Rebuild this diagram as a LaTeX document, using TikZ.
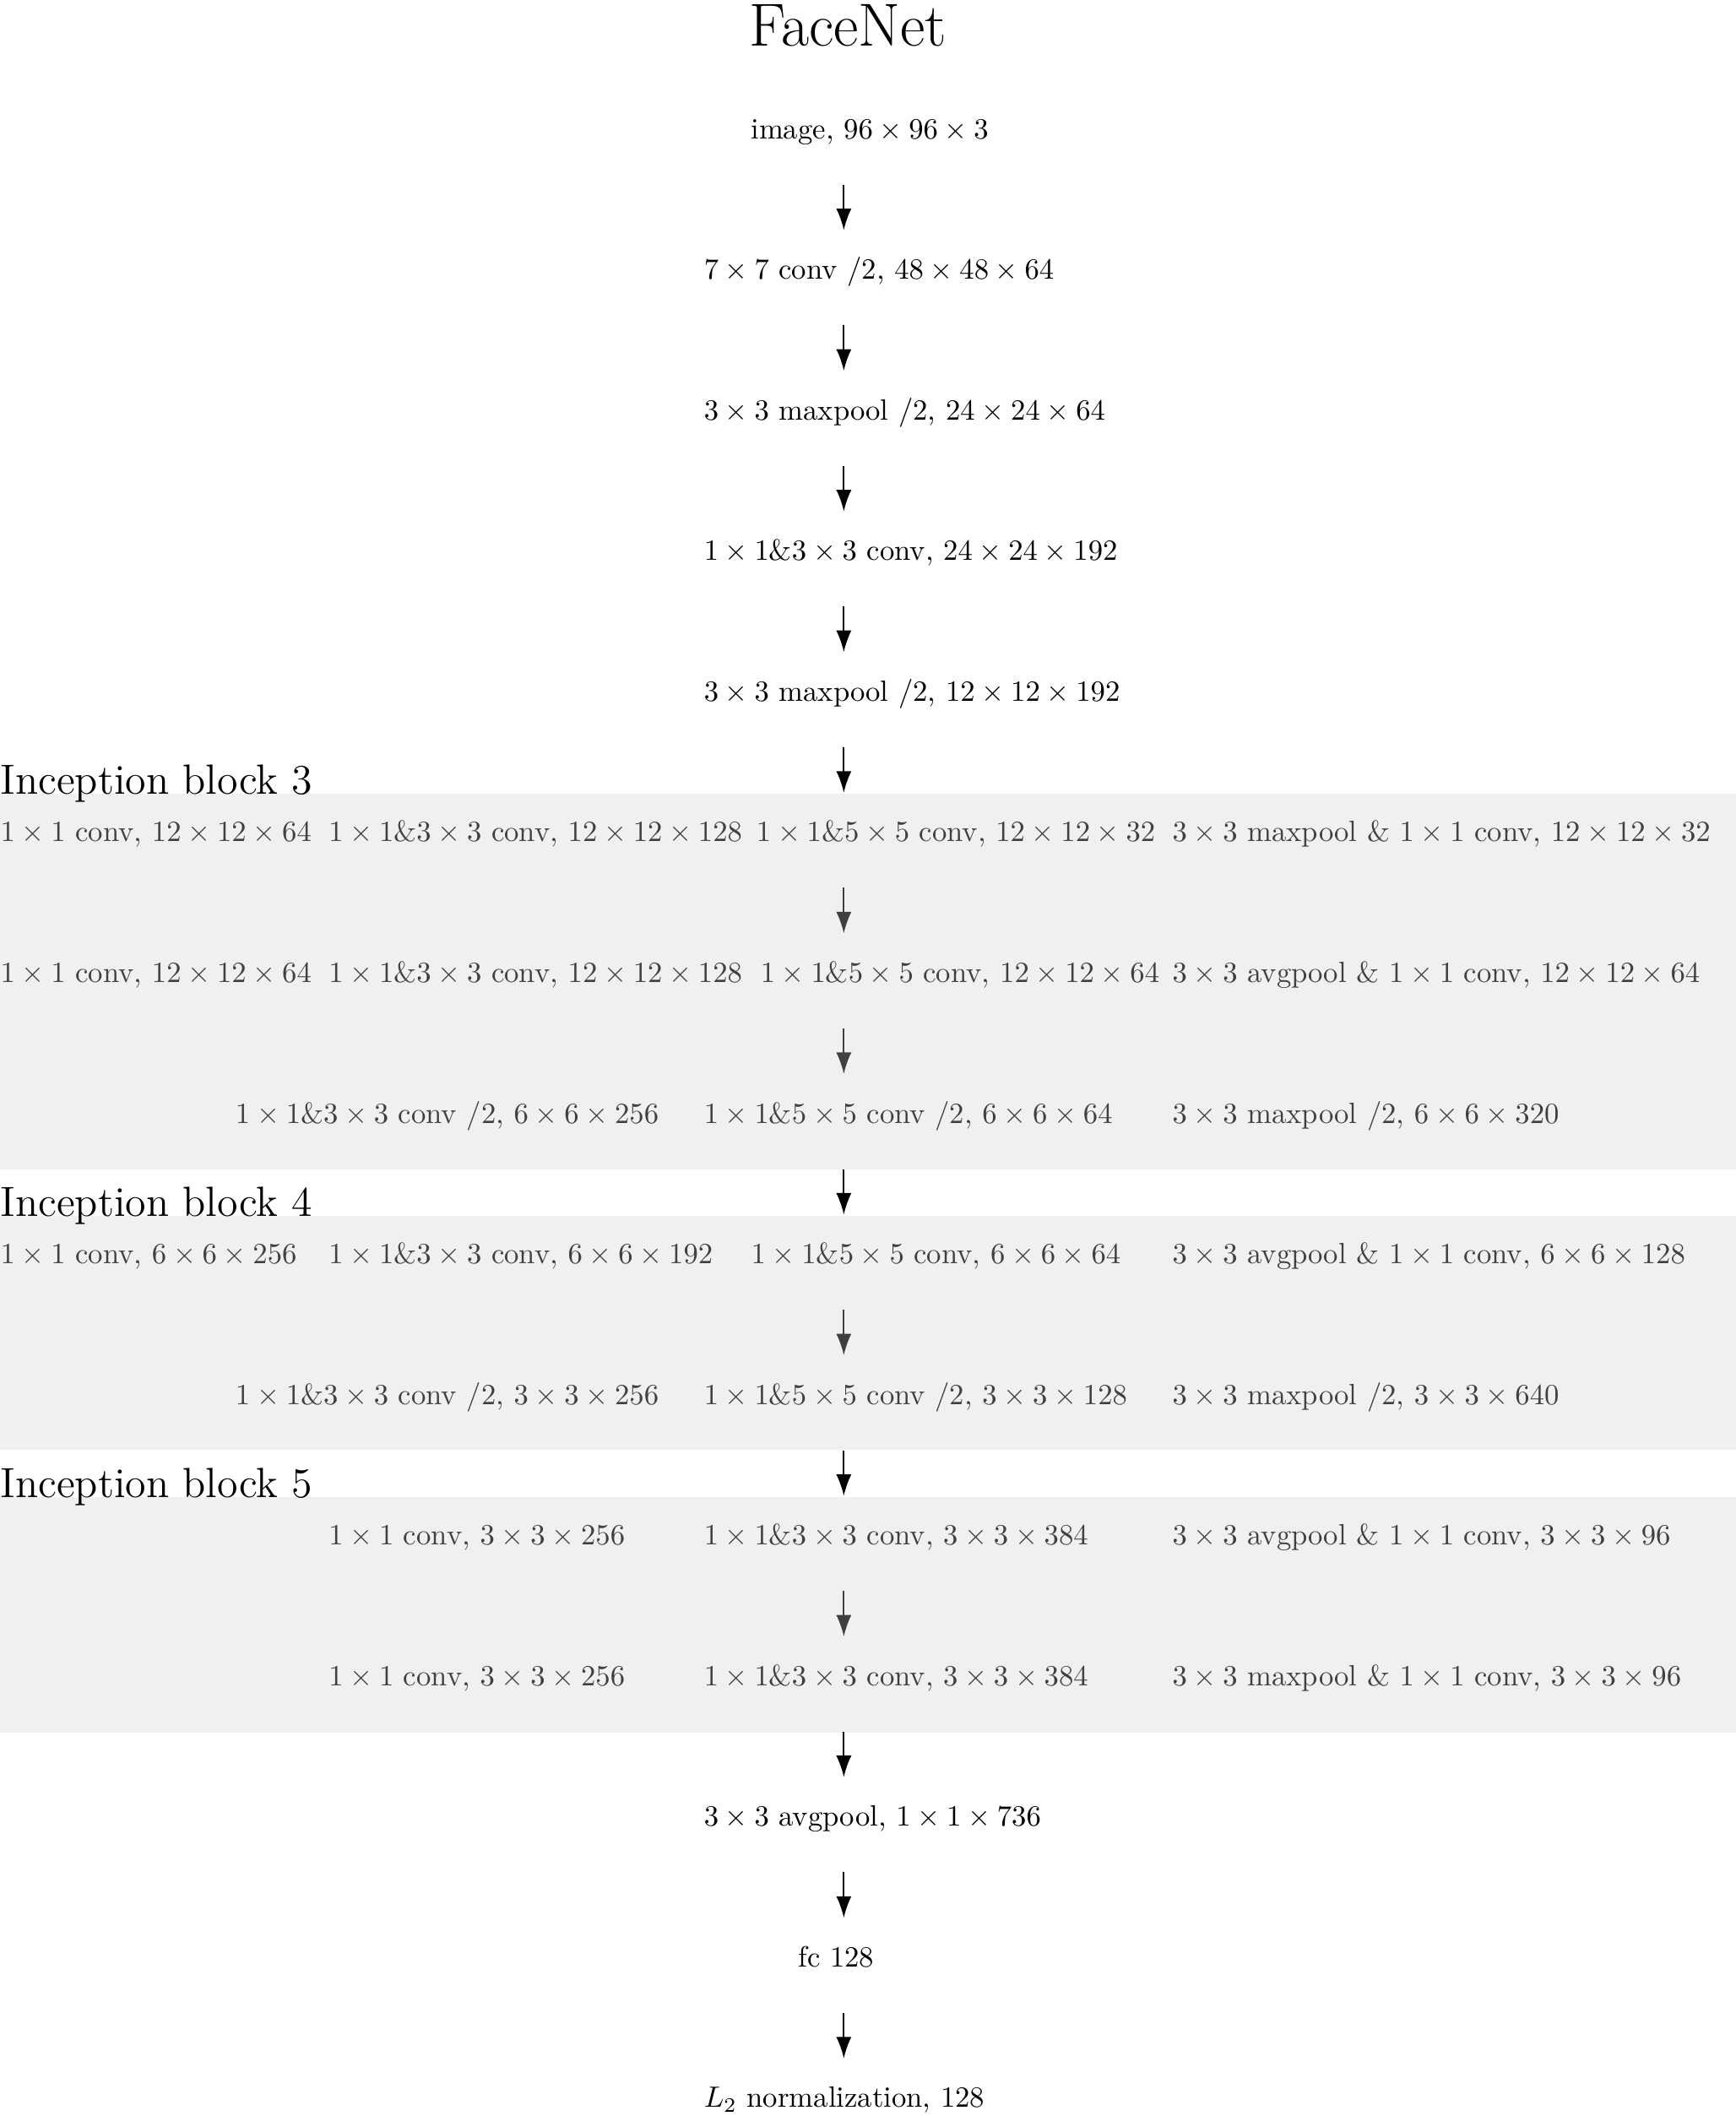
\documentclass[tikz,border=0pt]{standalone}
\usetikzlibrary{arrows.meta}

\definecolor{fondo}{HTML}{F0F0F0}
\definecolor{gris}{HTML}{404040}

\begin{document}
\begin{tikzpicture}
[x=1pt,y=1pt,
 capa/.style={anchor=base west,inner sep=0pt,text height=7pt,text depth=2pt},
 capagris/.style={capa,text=gris},
 titulo/.style={anchor=base west,inner sep=0pt,font=\Large},
 flecha/.style={-{Latex[length=7.3pt,width=5.2pt]},line width=0.5pt,shorten <=13.5pt,shorten >=9.6pt},
 flechagris/.style={flecha,color=gris}]
\useasboundingbox (0,0) rectangle (592.5,-722.2);
% fondos de los bloques
\fill[fondo] (0,-270.9) rectangle (592.5,-399.1);
\fill[fondo] (0,-415.0) rectangle (592.5,-494.8);
\fill[fondo] (0,-511.0) rectangle (592.5,-591.4);
\coordinate (eje) at (288,0);

\node (red) [font=\huge,anchor=base,inner sep=0pt] at (289.4,-15.6) {FaceNet};
\node (capa1) [capa] at (256.1,-47.3) {image, $96\times96\times3$};
\node (capa2) [capa] at (240.1,-95.3) {$7\times7$ conv /2, $48\times48\times64$};
\node (capa3) [capa] at (240.1,-143.3) {$3\times3$ maxpool /2, $24\times24\times64$};
\node (capa4) [capa] at (240.1,-191.3) {$1\times1$\&$3\times3$ conv, $24\times24\times192$};
\node (capa5) [capa] at (240.1,-239.3) {$3\times3$ maxpool /2, $12\times12\times192$};

\node (bloque3) [titulo] at (0,-270.9) {Inception block 3};
\node (b3a1) [capagris] at (0,-287.3) {$1\times1$ conv, $12\times12\times64$};
\node (b3a2) [capagris] at (112.0,-287.3) {$1\times1$\&$3\times3$ conv, $12\times12\times128$};
\node (b3a3) [capagris] at (258.0,-287.3) {$1\times1$\&$5\times5$ conv, $12\times12\times32$};
\node (b3a4) [capagris] at (400.0,-287.3) {$3\times3$ maxpool \& $1\times1$ conv, $12\times12\times32$};
\node (b3b1) [capagris] at (0,-335.3) {$1\times1$ conv, $12\times12\times64$};
\node (b3b2) [capagris] at (112.0,-335.3) {$1\times1$\&$3\times3$ conv, $12\times12\times128$};
\node (b3b3) [capagris] at (259.4,-335.3) {$1\times1$\&$5\times5$ conv, $12\times12\times64$};
\node (b3b4) [capagris] at (400.0,-335.3) {$3\times3$ avgpool \& $1\times1$ conv, $12\times12\times64$};
\node (b3c1) [capagris] at (80.2,-383.3) {$1\times1$\&$3\times3$ conv /2, $6\times6\times256$};
\node (b3c2) [capagris] at (240.1,-383.3) {$1\times1$\&$5\times5$ conv /2, $6\times6\times64$};
\node (b3c3) [capagris] at (400.0,-383.3) {$3\times3$ maxpool /2, $6\times6\times320$};

\node (bloque4) [titulo] at (0,-415.0) {Inception block 4};
\node (b4a1) [capagris] at (0,-431.3) {$1\times1$ conv, $6\times6\times256$};
\node (b4a2) [capagris] at (112.0,-431.3) {$1\times1$\&$3\times3$ conv, $6\times6\times192$};
\node (b4a3) [capagris] at (256.2,-431.3) {$1\times1$\&$5\times5$ conv, $6\times6\times64$};
\node (b4a4) [capagris] at (400.0,-431.3) {$3\times3$ avgpool \& $1\times1$ conv, $6\times6\times128$};
\node (b4b1) [capagris] at (80.2,-479.3) {$1\times1$\&$3\times3$ conv /2, $3\times3\times256$};
\node (b4b2) [capagris] at (240.1,-479.3) {$1\times1$\&$5\times5$ conv /2, $3\times3\times128$};
\node (b4b3) [capagris] at (400.0,-479.3) {$3\times3$ maxpool /2, $3\times3\times640$};

\node (bloque5) [titulo] at (0,-511.0) {Inception block 5};
\node (b5a1) [capagris] at (112.0,-527.3) {$1\times1$ conv, $3\times3\times256$};
\node (b5a2) [capagris] at (240.1,-527.3) {$1\times1$\&$3\times3$ conv, $3\times3\times384$};
\node (b5a3) [capagris] at (400.0,-527.3) {$3\times3$ avgpool \& $1\times1$ conv, $3\times3\times96$};
\node (b5b1) [capagris] at (112.0,-575.3) {$1\times1$ conv, $3\times3\times256$};
\node (b5b2) [capagris] at (240.1,-575.3) {$1\times1$\&$3\times3$ conv, $3\times3\times384$};
\node (b5b3) [capagris] at (400.0,-575.3) {$3\times3$ maxpool \& $1\times1$ conv, $3\times3\times96$};

\node (capa6) [capa] at (240.1,-623.3) {$3\times3$ avgpool, $1\times1\times736$};
\node (capa7) [capa] at (272.3,-671.3) {fc 128};
\node (capa8) [capa] at (240.1,-719.3) {$L_2$ normalization, 128};

\draw[flecha] (capa1.south -| eje) -- (capa2.north -| eje);
\draw[flecha] (capa2.south -| eje) -- (capa3.north -| eje);
\draw[flecha] (capa3.south -| eje) -- (capa4.north -| eje);
\draw[flecha] (capa4.south -| eje) -- (capa5.north -| eje);
\draw[flecha] (capa5.south -| eje) -- (b3a1.north -| eje);
\draw[flechagris] (b3a1.south -| eje) -- (b3b1.north -| eje);
\draw[flechagris] (b3b1.south -| eje) -- (b3c1.north -| eje);
\draw[flecha] (b3c1.south -| eje) -- (b4a1.north -| eje);
\draw[flechagris] (b4a1.south -| eje) -- (b4b1.north -| eje);
\draw[flecha] (b4b1.south -| eje) -- (b5a1.north -| eje);
\draw[flechagris] (b5a1.south -| eje) -- (b5b1.north -| eje);
\draw[flecha] (b5b1.south -| eje) -- (capa6.north -| eje);
\draw[flecha] (capa6.south -| eje) -- (capa7.north -| eje);
\draw[flecha] (capa7.south -| eje) -- (capa8.north -| eje);
\end{tikzpicture}
\end{document}
